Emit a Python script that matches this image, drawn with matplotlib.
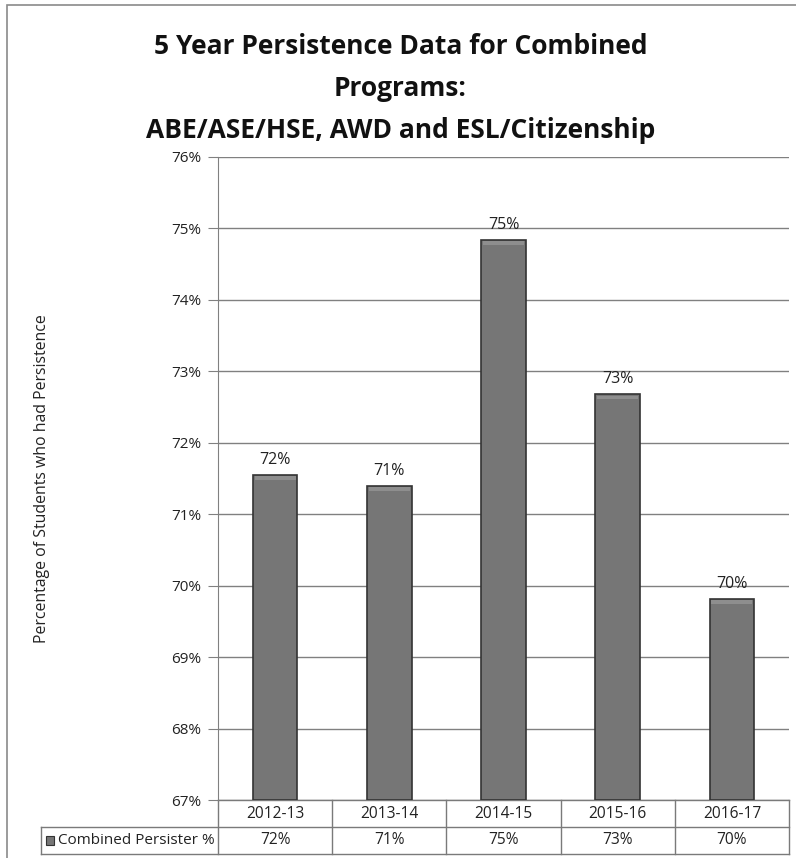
import matplotlib
matplotlib.use("Agg")
import matplotlib.pyplot as plt
from matplotlib.patches import Rectangle
from matplotlib.lines import Line2D

plt.rcParams['font.family'] = ['Open Sans', 'DejaVu Sans']

# dados do gráfico
anos = ['2012-13', '2013-14', '2014-15', '2015-16', '2016-17']
persistencia = [71.55, 71.40, 74.84, 72.68, 69.82]
serie = 'Combined Persister %'

titulo = '5 Year Persistence Data for Combined\nPrograms:\nABE/ASE/HSE, AWD and ESL/Citizenship'
rotulo_y = 'Percentage of Students who had Persistence'

fig = plt.figure(figsize=(7.96, 8.58), dpi=100)
ax = fig.add_axes([218 / 796, 58 / 858, 571 / 796, 643 / 858])

# moldura da figura
fig.patches.append(Rectangle((7 / 796, -0.1), 1.0, 1.0 - 5 / 858 + 0.1,
                             transform=fig.transFigure, fill=False,
                             edgecolor='#8a8a8a', linewidth=1.2))

x = list(range(len(anos)))
barras = ax.bar(x, [v - 67 for v in persistencia], bottom=67, width=0.39,
                color='#767676', edgecolor='#333333', linewidth=1.2, zorder=3)
# realce claro no topo das barras
ax.bar(x, [0.05] * len(x), bottom=[v - 0.07 for v in persistencia], width=0.36,
       color='#8e8e8e', linewidth=0, zorder=4)

for xi, v in zip(x, persistencia):
    ax.annotate(f'{v:.0f}%', (xi, v), xytext=(0, 5), textcoords='offset points',
                ha='center', va='bottom', fontsize=11.5, color='#222222')

ax.set_xlim(-0.5, len(anos) - 0.5)
ax.set_ylim(67, 76)
ax.set_yticks(range(67, 77))
ax.set_yticklabels([f'{t}%' for t in range(67, 77)], fontsize=11, color='#222222')
ax.set_xticks([])
ax.yaxis.grid(True, color='#808080', linewidth=1.0, zorder=0)
ax.tick_params(axis='y', length=7, color='#808080', pad=5)
for lado in ['top', 'right', 'bottom']:
    ax.spines[lado].set_visible(False)
ax.spines['left'].set_color('#808080')

ax.set_ylabel(rotulo_y, fontsize=11.4, color='#222222', labelpad=0)
ax.yaxis.set_label_coords(-0.295, 0.5)

fig.text(0.503, 0.962, titulo, ha='center', va='top', fontsize=19,
         fontweight='bold', linespacing=1.72, color='#111111')

# tabela de dados abaixo do eixo
h = 27 / 643
esq = -(218 - 41) / 571
cor_linha = '#7a7a7a'
kw = dict(transform=ax.transAxes, clip_on=False, color=cor_linha, linewidth=1.0)
for y in [0, -h, -2 * h]:
    x0 = 0 if y == 0 else esq
    ax.add_line(Line2D([x0, 1], [y, y], **kw))
for i in range(len(anos) + 1):
    xc = i / len(anos)
    ax.add_line(Line2D([xc, xc], [0, -2 * h], **kw))
ax.add_line(Line2D([esq, esq], [-h, -2 * h], **kw))

for i, (ano, v) in enumerate(zip(anos, persistencia)):
    xc = (i + 0.5) / len(anos)
    ax.text(xc, -h / 2, ano, transform=ax.transAxes, ha='center', va='center',
            fontsize=11.2, color='#222222')
    ax.text(xc, -1.5 * h, f'{v:.0f}%', transform=ax.transAxes, ha='center',
            va='center', fontsize=11.2, color='#222222')

ax.add_patch(Rectangle((esq + 0.008, -1.5 * h - 0.007), 0.015, 0.014,
                       transform=ax.transAxes, clip_on=False,
                       facecolor='#767676', edgecolor='#333333', linewidth=0.8))
ax.text(esq + 0.03, -1.5 * h, serie, transform=ax.transAxes, ha='left',
        va='center', fontsize=11, color='#222222')

fig.savefig('out.png', dpi=100)
